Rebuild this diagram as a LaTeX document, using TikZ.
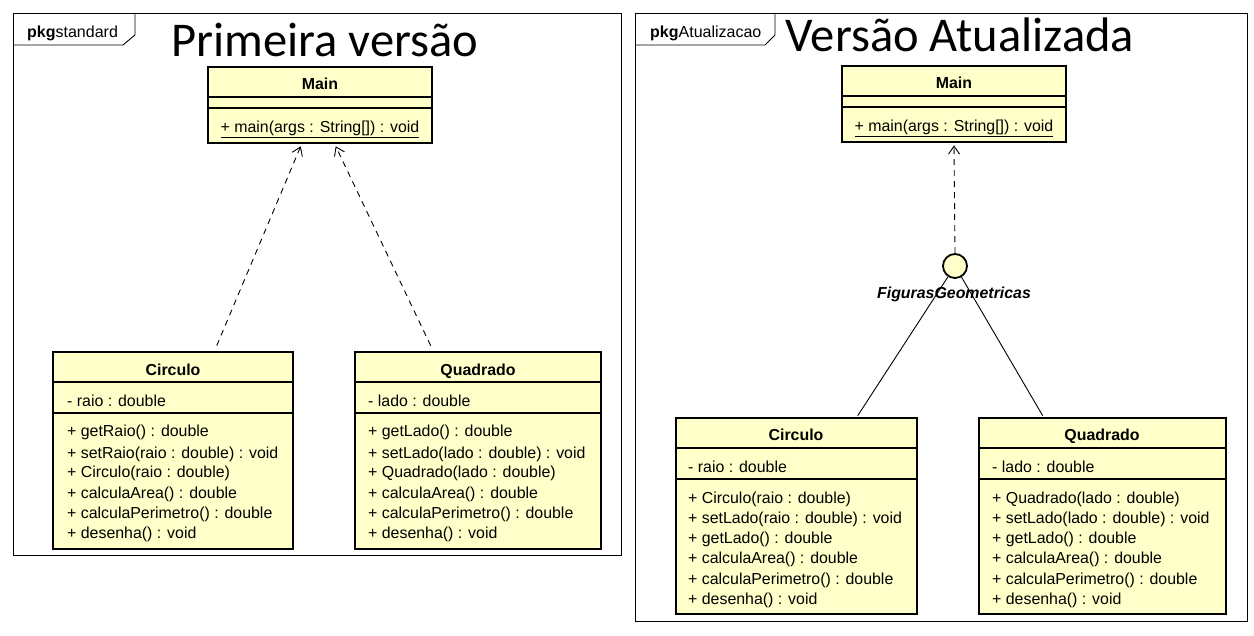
\documentclass[tikz,border=0pt]{standalone}
\usepackage{fontspec}
\setmainfont{Liberation Sans}
\newfontfamily\titlefont{Carlito}
\usetikzlibrary{arrows.meta,fit,calc}
\definecolor{clsfill}{RGB}{255,255,202}
\tikzset{
  classbox/.style={draw=black, line width=2.6pt, fill=clsfill, inner sep=0pt},
  sepline/.style={line width=1.2pt},
  pkgframe/.style={draw=black, line width=0.9pt},
  txt/.style={font=\fontsize{15.9}{18}\selectfont, inner sep=0pt, text height=15pt, text depth=1pt},
  hdr/.style={font=\fontsize{15.9}{18}\selectfont\bfseries, inner sep=0pt, text height=15pt, text depth=1pt},
  pkgtxt/.style={font=\fontsize{16}{18}\selectfont, inner sep=0pt, anchor=west, text height=15pt, text depth=1pt},
  bigtitle/.style={font=\titlefont\fontsize{48.5}{52}\selectfont, inner sep=0pt},
  dep/.style={dash pattern=on 6pt off 5pt, line width=0.9pt, -{Straight Barb[length=8pt,width=11pt,line width=0.9pt]}},
  assoc/.style={line width=0.9pt},
}
\newcommand\umlcls[7]{%
  \coordinate (#1-nw) at (#2,#3);
  \coordinate (#1-se) at (#4,#5);
  \node[classbox, fit=(#1-nw)(#1-se)] (#1) {};
  \draw[sepline] (#2,#6) -- (#4,#6);
  \draw[sepline] (#2,#7) -- (#4,#7);
}
\begin{document}
\begin{tikzpicture}[x=1pt,y=-1pt]
\useasboundingbox (0,0) rectangle (1254,636);
\fill[white] (0,0) rectangle (1254,636);

% ---------- left package ----------
\node[pkgframe, fit={(13,13)(621,555)}, inner sep=0pt] (pkgL) {};
\draw[pkgframe] (13,45) -- (123,45) -- (135,35) -- (135,13);
\node[pkgtxt] (pkgLlbl) at (27,31) {\textbf{pkg}standard};
\node[bigtitle] (titleL) at (325,40) {Primeira versão};

\umlcls{lm}{208}{67}{432}{143}{97}{108}
\node[hdr] (lmh) at (320,83) {Main};
\node[txt] (lmm) at (320,126) {\underline{+ main(args : String[]) : void}};

\umlcls{lc}{53}{352}{293}{549}{382}{413}
\node[hdr] (lch) at (173,369) {Circulo};
\node[txt, anchor=west] (lca) at (67,400) {- raio : double};
\node[txt, anchor=west] (lc1) at (67,430) {+ getRaio() : double};
\node[txt, anchor=west] (lc2) at (67,451) {+ setRaio(raio : double) : void};
\node[txt, anchor=west] (lc3) at (67,471) {+ Circulo(raio : double)};
\node[txt, anchor=west] (lc4) at (67,491) {+ calculaArea() : double};
\node[txt, anchor=west] (lc5) at (67,511) {+ calculaPerimetro() : double};
\node[txt, anchor=west] (lc6) at (67,531) {+ desenha() : void};

\umlcls{lq}{355}{352}{601}{549}{382}{413}
\node[hdr] (lqh) at (478,369) {Quadrado};
\node[txt, anchor=west] (lqa) at (368,400) {- lado : double};
\node[txt, anchor=west] (lq1) at (368,430) {+ getLado() : double};
\node[txt, anchor=west] (lq2) at (368,451) {+ setLado(lado : double) : void};
\node[txt, anchor=west] (lq3) at (368,471) {+ Quadrado(lado : double)};
\node[txt, anchor=west] (lq4) at (368,491) {+ calculaArea() : double};
\node[txt, anchor=west] (lq5) at (368,511) {+ calculaPerimetro() : double};
\node[txt, anchor=west] (lq6) at (368,531) {+ desenha() : void};

\draw[dep] ([xshift=165pt,yshift=5pt]lc.north west) -- ([xshift=94pt,yshift=-2pt]lm.south west);
\draw[dep] ([xshift=77pt,yshift=5pt]lq.north west) -- ([xshift=129pt,yshift=-2pt]lm.south west);

% ---------- right package ----------
\node[pkgframe, fit={(635,13)(1247,621)}, inner sep=0pt] (pkgR) {};
\draw[pkgframe] (635,45) -- (765,45) -- (775,35) -- (775,13);
\node[pkgtxt] (pkgRlbl) at (650,31) {\textbf{pkg}Atualizacao};
\node[bigtitle] (titleR) at (960,35) {Versão Atualizada};

\umlcls{rm}{842}{66}{1066}{142}{96}{107}
\node[hdr] (rmh) at (954,82) {Main};
\node[txt] (rmm) at (954,125) {\underline{+ main(args : String[]) : void}};

\node[circle, draw=black, line width=1.8pt, fill=clsfill, minimum size=24pt, inner sep=0pt] (fg) at (955,266) {};

\umlcls{rc}{676}{418}{917}{614}{448}{479}
\node[hdr] (rch) at (796,434) {Circulo};
\node[txt, anchor=west] (rca) at (688,465) {- raio : double};
\node[txt, anchor=west] (rc1) at (688,496) {+ Circulo(raio : double)};
\node[txt, anchor=west] (rc2) at (688,516) {+ setLado(raio : double) : void};
\node[txt, anchor=west] (rc3) at (688,536) {+ getLado() : double};
\node[txt, anchor=west] (rc4) at (688,556) {+ calculaArea() : double};
\node[txt, anchor=west] (rc5) at (688,577) {+ calculaPerimetro() : double};
\node[txt, anchor=west] (rc6) at (688,597) {+ desenha() : void};

\umlcls{rq}{979}{418}{1226}{614}{448}{479}
\node[hdr] (rqh) at (1102,434) {Quadrado};
\node[txt, anchor=west] (rqa) at (992,465) {- lado : double};
\node[txt, anchor=west] (rq1) at (992,496) {+ Quadrado(lado : double)};
\node[txt, anchor=west] (rq2) at (992,516) {+ setLado(lado : double) : void};
\node[txt, anchor=west] (rq3) at (992,536) {+ getLado() : double};
\node[txt, anchor=west] (rq4) at (992,556) {+ calculaArea() : double};
\node[txt, anchor=west] (rq5) at (992,577) {+ calculaPerimetro() : double};
\node[txt, anchor=west] (rq6) at (992,597) {+ desenha() : void};

\draw[dep] (fg.north) -- ([yshift=-2pt]rm.south);
\draw[assoc] (fg) -- ([xshift=183pt,yshift=1pt]rc.north west);
\draw[assoc] (fg) -- ([xshift=65pt,yshift=1pt]rq.north west);
\node[hdr, font=\fontsize{15.9}{18}\selectfont\bfseries\itshape] (fgl) at (954,292) {FigurasGeometricas};
\end{tikzpicture}
\end{document}
